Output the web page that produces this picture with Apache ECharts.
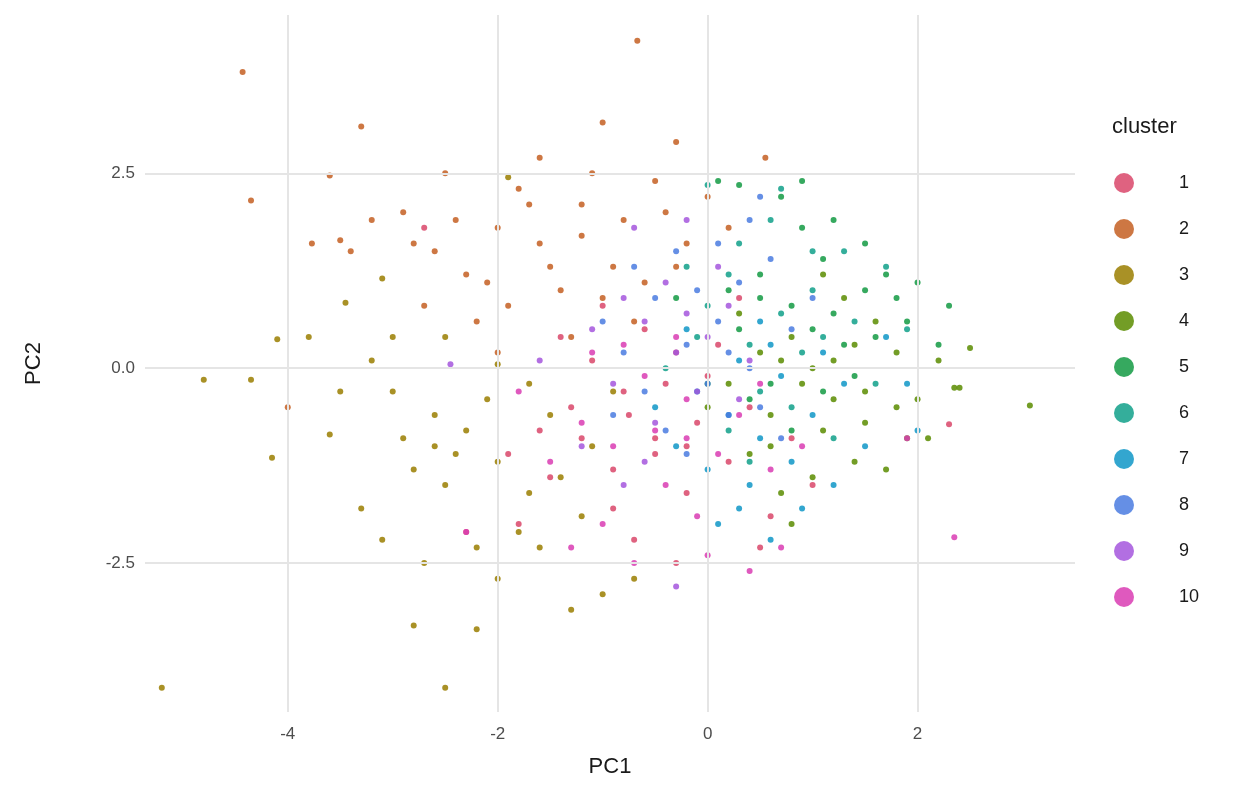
<!DOCTYPE html>
<html>
<head>
<meta charset="UTF-8">
<script src="https://cdn.jsdelivr.net/npm/echarts@6/dist/echarts.min.js"></script>
<style>
  *{margin:0;padding:0;}
  #main{width:1248px;height:806px;background:#fff;}
</style>
</head>
<body>
<div id="main"></div>
<script>
const clusterNames = ['1','2','3','4','5','6','7','8','9','10'];
const clusterColors = ['#D9476A','#C45F22','#9A7E00','#5A8C00','#139A43','#10A08A','#0F96C7','#4A7BE0','#A556DD','#D93CB3'];
const xTicks = [-4,-2,0,2];
const yTicks = [-2.5,0,2.5];

const c1 = [[-1.2,-0.9],[-0.8,-0.3],[-0.5,-1.1],[-0.1,-0.7],[-1.5,-1.4],[-0.3,0.2],[0.2,-1.2],[-0.9,-1.8],[-1.1,0.1],[-0.4,-0.2],[0.4,-0.5],[-0.7,-2.2],[-1.8,-2.0],[-2.3,-2.1],[-0.2,-1.6],[0.6,-1.9],[-1.3,-0.5],[-0.6,0.5],[0.1,0.3],[-0.9,-1.3],[-1.6,-0.8],[-0.3,-2.5],[0.8,-0.9],[-1.0,0.8],[-2.7,1.8],[0.5,-2.3],[2.3,-0.72],[1.0,-1.5],[-0.5,-0.9],[0.0,-0.1],[-1.4,0.4],[0.3,0.9],[-0.2,-1.0],[-1.9,-1.1],[-0.75,-0.6]];
const c2 = [[-4.43,3.8],[-0.67,4.2],[-3.3,3.1],[-4.35,2.15],[-3.6,2.47],[-1.0,3.15],[-0.3,2.9],[0.55,2.7],[-3.77,1.6],[-3.5,1.64],[-3.4,1.5],[-4.0,-0.5],[-2.0,1.8],[-1.6,1.6],[-1.2,2.1],[-0.8,1.9],[-2.3,1.2],[-1.9,0.8],[-1.4,1.0],[-0.9,1.3],[-0.5,2.4],[-1.1,2.5],[-1.6,2.7],[-2.5,2.5],[-2.9,2.0],[-2.6,1.5],[-2.2,0.6],[-1.3,0.4],[-0.7,0.6],[-0.2,1.6],[-0.4,2.0],[-1.8,2.3],[-2.4,1.9],[-1.0,0.9],[-1.5,1.3],[-2.1,1.1],[-2.8,1.6],[-3.2,1.9],[-2.0,0.2],[-0.6,1.1],[0.0,2.2],[-0.3,1.3],[-1.2,1.7],[-2.7,0.8],[-1.7,2.1],[0.2,1.8]];
const c3 = [[-5.2,-4.1],[-2.5,-4.1],[-2.2,-3.35],[-2.8,-3.3],[-4.8,-0.15],[-4.35,-0.15],[-4.15,-1.15],[-4.1,0.37],[-3.45,0.84],[-3.1,1.15],[-2.3,-0.8],[-2.0,-1.2],[-1.7,-1.6],[-2.6,-0.6],[-3.0,-0.3],[-2.1,-0.4],[-1.5,-0.6],[-1.8,-2.1],[-2.5,-1.5],[-3.3,-1.8],[-3.1,-2.2],[-2.7,-2.5],[-2.0,-2.7],[-1.6,-2.3],[-1.3,-3.1],[-1.0,-2.9],[-0.7,-2.7],[-1.2,-1.9],[-2.9,-0.9],[-3.6,-0.85],[-3.2,0.1],[-2.5,0.4],[-2.0,0.05],[-1.7,-0.2],[-2.4,-1.1],[-2.2,-2.3],[-1.4,-1.4],[-3.5,-0.3],[-2.8,-1.3],[-1.9,2.45],[-3.0,0.4],[-3.8,0.4],[-2.6,-1.0],[-1.1,-1.0],[-0.9,-0.3]];
const c4 = [[0.9,-0.2],[1.2,0.1],[1.5,-0.3],[0.6,-0.6],[1.8,0.2],[2.0,-0.4],[1.1,-0.8],[0.4,-1.1],[1.4,-1.2],[0.8,0.4],[1.6,0.6],[2.2,0.1],[2.4,-0.25],[0.2,-0.2],[1.0,-1.4],[0.7,-1.6],[1.9,-0.9],[1.3,0.9],[0.5,0.2],[2.1,-0.9],[1.7,-1.3],[0.3,0.7],[1.1,1.2],[1.5,-0.7],[0.0,-0.5],[0.6,-1.0],[1.0,0.0],[1.8,-0.5],[3.07,-0.48],[2.5,0.26],[2.35,-0.25],[0.8,-2.0],[1.2,-0.4],[0.7,0.1],[1.4,0.3]];
const c5 = [[0.8,0.8],[1.1,1.4],[1.5,1.0],[0.5,1.2],[1.9,0.6],[2.0,1.1],[0.3,0.5],[1.3,0.3],[0.9,1.8],[1.2,1.9],[0.7,2.2],[0.3,2.35],[0.6,-0.2],[1.6,0.4],[1.0,0.5],[1.7,1.2],[2.2,0.3],[0.4,-0.4],[1.4,-0.1],[0.2,1.0],[0.1,2.4],[0.9,2.4],[1.8,0.9],[1.2,0.7],[0.5,0.9],[0.8,-0.8],[2.3,0.8],[0.0,-0.2],[-0.3,0.9],[1.5,1.6],[1.1,-0.3]];
const c6 = [[0.4,0.3],[0.7,0.7],[0.2,1.2],[1.0,1.0],[1.4,0.6],[-0.1,0.4],[0.5,-0.3],[0.9,0.2],[1.7,1.3],[0.3,1.6],[1.3,1.5],[0.6,1.9],[-0.2,1.3],[1.1,0.4],[0.8,-0.5],[0.0,0.8],[1.9,0.5],[1.6,-0.2],[0.2,-0.8],[-0.4,0.0],[1.2,-0.9],[0.7,2.3],[0.0,2.35],[0.4,-1.2],[1.0,1.5]];
const c7 = [[0.2,-0.6],[0.5,-0.9],[0.8,-1.2],[-0.1,-0.3],[0.4,-1.5],[1.0,-0.6],[1.3,-0.2],[0.6,0.3],[-0.3,-1.0],[0.0,-1.3],[0.3,0.1],[0.9,-1.8],[1.5,-1.0],[1.9,-0.2],[2.0,-0.8],[1.7,0.4],[-0.5,-0.5],[0.7,-0.1],[0.1,-2.0],[0.6,-2.2],[1.2,-1.5],[-0.2,0.5],[0.5,0.6],[1.1,0.2],[0.3,-1.8]];
const c8 = [[-0.2,0.3],[0.1,0.6],[-0.5,0.9],[0.3,1.1],[-0.8,0.2],[0.0,-0.2],[0.4,0.0],[-0.3,1.5],[0.6,1.4],[-0.6,-0.3],[-0.1,1.0],[0.2,-0.6],[-1.0,0.6],[0.5,-0.5],[-0.4,-0.8],[0.8,0.5],[0.1,1.6],[0.4,1.9],[-0.7,1.3],[0.7,-0.9],[0.5,2.2],[-0.9,-0.6],[0.2,0.2],[-0.2,-1.1],[1.0,0.9]];
const c9 = [[-0.3,0.2],[-0.6,0.6],[-0.1,-0.3],[-0.9,-0.2],[0.2,0.8],[-0.4,1.1],[-0.7,1.8],[-0.2,1.9],[-1.1,0.5],[0.0,0.4],[-0.5,-0.7],[0.3,-0.4],[-0.8,0.9],[0.1,1.3],[-1.2,-1.0],[-2.45,0.05],[-1.6,0.1],[-0.3,-2.8],[-0.8,-1.5],[-0.2,0.7],[0.4,0.1],[-0.6,-1.2]];
const c10 = [[-0.5,-0.8],[-0.2,-0.4],[-0.9,-1.0],[0.1,-1.1],[-0.6,-0.1],[-1.2,-0.7],[0.3,-0.6],[-0.4,-1.5],[-1.0,-2.0],[-0.1,-1.9],[0.6,-1.3],[-0.8,0.3],[-1.5,-1.2],[-0.3,0.4],[0.4,-2.6],[0.0,-2.4],[-0.7,-2.5],[-1.3,-2.3],[0.9,-1.0],[-1.8,-0.3],[2.35,-2.17],[1.9,-0.9],[-0.2,-0.9],[-1.1,0.2],[0.5,-0.2],[-2.3,-2.1],[0.7,-2.3]];
const clusterData = [c1,c2,c3,c4,c5,c6,c7,c8,c9,c10];

let chart = echarts.init(document.getElementById('main'));
let series = clusterData.map((d, i) => ({
    name: clusterNames[i],
    type: 'scatter',
    data: d,
    symbolSize: 6,
    z: 3,
    itemStyle: {color: clusterColors[i], opacity: 0.85}
}));
// grid lines
series.push({
    type: 'scatter', data: [], silent: true, z: 1,
    markLine: {
        silent: true, symbol: 'none', label: {show: false},
        lineStyle: {color: '#e5e5e5', width: 2, type: 'solid'},
        data: xTicks.map(v => ({xAxis: v})).concat(yTicks.map(v => ({yAxis: v})))
    }
});

chart.setOption({
    animation: false,
    grid: {left: 145, right: 173, top: 15, bottom: 94},
    xAxis: {
        type: 'value', min: -5.36, max: 3.5,
        name: 'PC1', nameLocation: 'middle', nameGap: 44,
        nameTextStyle: {fontSize: 22, color: '#1a1a1a'},
        axisLine: {show: false}, axisTick: {show: false}, splitLine: {show: false},
        axisLabel: {customValues: xTicks, fontSize: 17, color: '#4d4d4d', margin: 14}
    },
    yAxis: {
        type: 'value', min: -4.41, max: 4.53,
        name: 'PC2', nameLocation: 'middle', nameGap: 100,
        nameTextStyle: {fontSize: 22, color: '#1a1a1a'},
        axisLine: {show: false}, axisTick: {show: false}, splitLine: {show: false},
        axisLabel: {customValues: yTicks, fontSize: 17, color: '#4d4d4d', margin: 10,
            formatter: v => v.toFixed(1)}
    },
    legend: {
        data: clusterNames, orient: 'vertical', left: 1109, top: 168,
        icon: 'circle', itemWidth: 20, itemHeight: 20, itemGap: 26,
        textStyle: {fontSize: 18, color: '#1a1a1a', padding: [0, 0, 0, 40]}
    },
    graphic: [{type: 'text', left: 1112, top: 116, style: {text: 'cluster', fontSize: 22, fill: '#1a1a1a'}}],
    series
});
</script>
</body>
</html>
